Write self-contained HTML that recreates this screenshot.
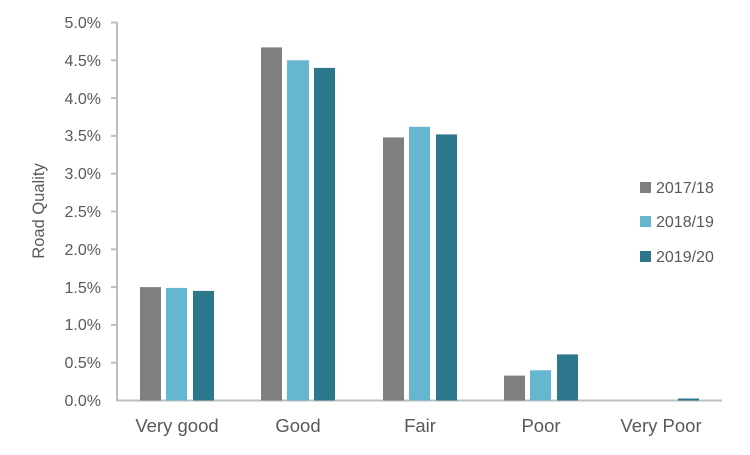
<!DOCTYPE html>
<html><head><style>body{margin:0;background:#fff}</style></head><body>
<svg width="750" height="450" xmlns="http://www.w3.org/2000/svg" font-family="Liberation Sans, sans-serif" fill="#595959">
<g stroke="#bfbfbf" stroke-width="2">
<line x1="117" y1="22" x2="117" y2="401"/>
<line x1="117" y1="400.5" x2="722" y2="400.5"/>
<line x1="111" y1="22.5" x2="117" y2="22.5"/><line x1="111" y1="60.3" x2="117" y2="60.3"/><line x1="111" y1="98.1" x2="117" y2="98.1"/><line x1="111" y1="135.9" x2="117" y2="135.9"/><line x1="111" y1="173.7" x2="117" y2="173.7"/><line x1="111" y1="211.5" x2="117" y2="211.5"/><line x1="111" y1="249.3" x2="117" y2="249.3"/><line x1="111" y1="287.1" x2="117" y2="287.1"/><line x1="111" y1="324.9" x2="117" y2="324.9"/><line x1="111" y1="362.7" x2="117" y2="362.7"/>
</g>
<g font-size="16" text-anchor="end">
<text x="101" y="28">5.0%</text><text x="101" y="66">4.5%</text><text x="101" y="104">4.0%</text><text x="101" y="141">3.5%</text><text x="101" y="179">3.0%</text><text x="101" y="217">2.5%</text><text x="101" y="255">2.0%</text><text x="101" y="293">1.5%</text><text x="101" y="330">1.0%</text><text x="101" y="368">0.5%</text><text x="101" y="406">0.0%</text>
</g>
<text transform="translate(44,211) rotate(-90)" font-size="16.5" text-anchor="middle">Road Quality</text>
<g fill="#7f7f7f">
<rect x="140" y="287.1" width="21" height="113.4"/><rect x="261" y="47.4" width="21" height="353.1"/><rect x="383" y="137.4" width="21" height="263.1"/><rect x="504" y="375.6" width="21" height="24.9"/>
</g>
<g fill="#65b6cf">
<rect x="166" y="287.9" width="21" height="112.6"/><rect x="287" y="60.3" width="22" height="340.2"/><rect x="409" y="126.8" width="21" height="273.7"/><rect x="530" y="370.3" width="21" height="30.2"/>
</g>
<g fill="#2c778b">
<rect x="193" y="290.9" width="21" height="109.6"/><rect x="314" y="67.9" width="21" height="332.6"/><rect x="436" y="134.4" width="21" height="266.1"/><rect x="557" y="354.4" width="21" height="46.1"/><rect x="678" y="398.5" width="21" height="2"/>
</g>
<g font-size="18.5" text-anchor="middle">
<text x="177" y="432">Very good</text><text x="298" y="432">Good</text><text x="420" y="432">Fair</text><text x="541" y="432">Poor</text><text x="661" y="432">Very Poor</text>
</g>
<rect x="640" y="182" width="11" height="11" fill="#7f7f7f"/><text x="656" y="193" font-size="16">2017/18</text>
<rect x="640" y="216" width="11" height="11" fill="#65b6cf"/><text x="656" y="227" font-size="16">2018/19</text>
<rect x="640" y="251" width="11" height="11" fill="#2c778b"/><text x="656" y="262" font-size="16">2019/20</text>
</svg>
</body></html>
